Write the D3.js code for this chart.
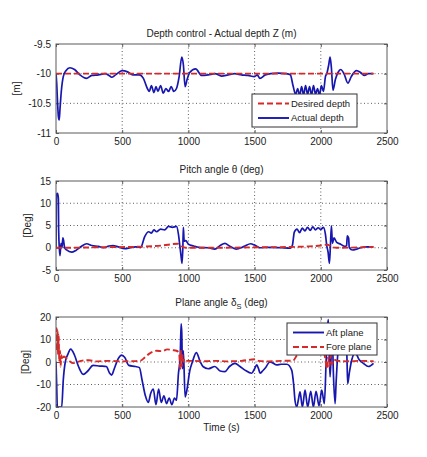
<!DOCTYPE html>
<html>
<head>
<meta charset="utf-8">
<script src="https://cdn.jsdelivr.net/npm/d3@7"></script>
<style>
body { margin: 0; background: #fff; }
svg { display: block; font-family: "Liberation Sans", Arial, sans-serif; }
.box { fill: none; stroke: #5a5a5a; stroke-width: 1; }
.grid line { stroke: #333; stroke-dasharray: 1,2.5; stroke-width: 0.8; }
.axis path { display: none; }
.axis line { stroke: #5a5a5a; }
.axis text { font-size: 10px; fill: #222; }
</style>
</head>
<body>
<svg id="chart" width="427" height="457"></svg>
<script>
// tick values
var xTicks = [0, 500, 1000, 1500, 2000, 2500];
var depthTicks = [-11, -10.5, -10, -9.5];
var pitchTicks = [-5, 0, 5, 10, 15];
var planeTicks = [-20, -10, 0, 10, 20];

// [time (s), value]
var depthDesired = [[0, -10], [2400, -10]];
var depthActual = [[0, -10], [5, -10.15], [12, -10.5], [18, -10.72], [24, -10.78], [30, -10.6], [40, -10.3], [55, -10.05],
	[75, -9.95], [105, -9.9], [140, -9.93], [180, -10.02], [230, -10.08], [270, -10.03], [320, -10.02], [370, -10.0],
	[400, -10.03], [420, -10.06], [450, -10.02], [500, -9.95], [540, -9.97], [580, -10.02], [630, -10.02], [660, -10.08],
	[690, -10.25], [705, -10.3], [720, -10.2], [740, -10.32], [755, -10.22], [770, -10.3], [790, -10.2], [810, -10.33],
	[830, -10.25], [850, -10.3], [870, -10.22], [890, -10.3], [910, -10.25], [930, -10.05], [950, -9.72], [962, -9.85],
	[975, -10.22], [990, -10.1], [1010, -9.98], [1055, -9.92], [1100, -10.03], [1150, -10.02], [1200, -10.0], [1250, -10.04],
	[1300, -10.02], [1350, -10.0], [1400, -10.02], [1450, -10.03], [1500, -10.05], [1520, -10.02], [1540, -10.08], [1580, -10.02],
	[1620, -10.0], [1680, -9.99], [1740, -10.0], [1770, -10.02], [1790, -10.2], [1810, -10.35], [1825, -10.25], [1840, -10.37],
	[1855, -10.22], [1870, -10.36], [1885, -10.2], [1900, -10.35], [1915, -10.22], [1930, -10.36], [1945, -10.2], [1960, -10.35],
	[1975, -10.25], [1990, -10.36], [2005, -10.2], [2020, -10.3], [2035, -10.05], [2045, -10.0], [2060, -9.85], [2070, -9.72],
	[2080, -9.9], [2092, -10.28], [2110, -10.1], [2130, -9.98], [2150, -9.93], [2175, -10.0], [2205, -10.16], [2230, -10.05],
	[2270, -9.95], [2300, -9.98], [2330, -10.03], [2360, -10.0], [2395, -10.0]];

var pitchDesired = [[0, 0], [100, 0], [300, 0.1], [600, 0.2], [800, 0.5], [920, 0.9], [950, 0.3], [980, 0], [1200, 0],
	[1500, 0.1], [1800, 0.2], [2000, 0.5], [2050, 0.7], [2080, 0.2], [2120, 0], [2400, 0.2]];
var pitchActual = [[0, 0], [3, 12], [12, 12.2], [18, 11], [20, 4], [25, 0], [30, -1.8], [38, 1], [45, 0], [52, 2.2], [58, 1.5],
	[65, 0], [80, -0.5], [118, -1], [150, -0.6], [190, 0.3], [232, 0.9], [270, 0.5], [320, 0.3], [360, 0], [400, 0.4], [430, 0.5],
	[470, 0.2], [520, -0.2], [560, 0], [600, 0.2], [640, 0.1], [670, 2.5], [700, 3.6], [720, 3.3], [740, 4], [760, 3.6], [790, 4.2],
	[820, 4.0], [850, 4.8], [880, 4.6], [910, 4.8], [925, 3], [935, 0.5], [945, -2], [952, -3.5], [958, 0], [962, 4.6], [968, 1.5],
	[980, 1.6], [1000, 0.8], [1040, 0.4], [1080, 0.1], [1150, 0], [1200, -0.3], [1240, 0.5], [1276, 1], [1310, 0.4], [1360, -0.3],
	[1420, 0.3], [1470, 0.9], [1500, 0.6], [1540, 0], [1600, 0.1], [1700, 0], [1770, -0.1], [1785, 0.5], [1800, 3.5], [1820, 4.2],
	[1840, 3.4], [1860, 4.4], [1880, 3.8], [1900, 4.6], [1920, 3.9], [1940, 4.7], [1960, 4.0], [1980, 4.5], [2000, 4.1], [2020, 4.6],
	[2035, 3], [2045, 0.5], [2055, -1], [2065, -3.5], [2072, 0], [2080, 4.9], [2088, 1], [2100, 2.2], [2120, 1.2], [2150, 0.8],
	[2180, 0.3], [2195, 0.5], [2200, 2.7], [2210, 2.2], [2215, 0], [2240, -0.5], [2270, -0.3], [2300, 0], [2350, 0.2], [2395, 0.2]];

var planeAft = [[0, 0], [5, -10], [10, -20], [43, -20], [55, -8], [70, 0], [90, 3.5], [111, 5.7], [140, 3], [170, -2], [206, -5.5],
	[240, -4], [280, -1.5], [330, -1.8], [380, -2], [405, -5], [420, -5.8], [440, -3], [470, 1.5], [496, 3.1], [520, 2], [550, -1.5],
	[600, -2], [630, -2.5], [650, -8], [675, -15], [697, -18], [715, -14], [735, -12], [755, -19], [775, -12], [795, -18], [815, -15],
	[835, -18.5], [855, -16], [875, -19], [895, -16], [910, -17], [925, -5], [938, 2], [945, 17], [950, 13], [955, -3], [962, 5],
	[975, -15.5], [990, -12], [1010, -4], [1030, 0], [1060, 4.2], [1090, 0], [1110, -2], [1150, -3], [1200, -2], [1240, -4],
	[1276, -4.3], [1310, -2], [1352, -0.6], [1390, -2], [1427, -3.6], [1478, -5], [1500, -3], [1516, -1.3], [1530, -3], [1541, -5],
	[1560, -4], [1579, -2.8], [1616, 0], [1640, -0.5], [1667, -1.3], [1700, -1], [1743, -1], [1780, -3.6], [1795, -10], [1805, -17],
	[1818, -20], [1830, -17], [1843, -13.3], [1861, -20], [1881, -12.5], [1901, -20], [1924, -13], [1944, -20], [1964, -13],
	[1987, -19.5], [2007, -12.5], [2027, -18.5], [2040, 0], [2050, 15], [2057, 18.8], [2063, 5], [2070, -6.6], [2080, 5], [2087, 11],
	[2095, -5], [2108, -18.5], [2115, -10], [2130, 5], [2146, 11], [2160, 13], [2171, 8], [2185, 6], [2196, 4], [2203, -9.6],
	[2215, -5], [2234, 1], [2260, 4], [2290, 1], [2322, -0.6], [2360, -2], [2398, -0.6]];
var planeFore = [[0, 14], [5, 15], [8, 5], [12, 14], [16, 3], [20, 12], [25, 0], [30, 5], [35, -2], [40, 3], [50, 1], [60, 2.5],
	[80, 1.5], [100, 0.5], [130, -0.5], [160, 0], [200, 0.6], [250, 0.8], [300, 0.3], [400, 0.5], [500, 0.3], [600, 0.4], [640, 0.6],
	[670, 2], [700, 3.5], [730, 4.5], [760, 5.0], [800, 4.8], [840, 5.6], [880, 5.3], [910, 5.0], [930, 4], [938, -3], [944, 5],
	[950, -2], [956, 3], [962, 0], [970, 1.5], [990, 0.5], [1050, 0.5], [1100, 0.3], [1200, 0.5], [1300, 0.3], [1400, 0.5],
	[1500, 1.2], [1530, 0.5], [1600, 0.3], [1700, 0.5], [1790, 0.6], [1820, 3], [1860, 5], [1950, 5.5], [2020, 5], [2035, 1],
	[2045, -3], [2055, 2], [2065, -2], [2075, 3], [2085, -1], [2100, 1], [2130, 0.5], [2200, 0.3], [2300, 0.5], [2400, 0.3]];

var RED = '#d62a2a';
var BLUE = '#1717b0';

var svg = d3.select('#chart');
svg.append('rect').attr('width', 427).attr('height', 457).attr('fill', '#fff');

var x = d3.scaleLinear().domain([0, 2500]).range([56, 387]);

var panels = [
	{ id: 'depth', top: 44, bottom: 133, domain: [-11, -9.5], ticks: depthTicks, ylabel: '[m]', ylx: 20, titleY: 37,
		title: ['Depth control - Actual depth Z (m)'],
		series: [{ data: depthActual, color: BLUE }, { data: depthDesired, color: RED, dash: '6,3' }],
		legend: { x: 252, y: 94, w: 105, h: 33, rows: [{ label: 'Desired depth', color: RED, dash: '6,3' }, { label: 'Actual depth', color: BLUE }] } },
	{ id: 'pitch', top: 181, bottom: 270, domain: [-5, 15], ticks: pitchTicks, ylabel: '[Deg]', ylx: 31, titleY: 173,
		title: ['Pitch angle \u03b8 (deg)'],
		series: [{ data: pitchActual, color: BLUE }, { data: pitchDesired, color: RED, dash: '6,3' }] },
	{ id: 'plane', top: 317, bottom: 407, domain: [-20, 20], ticks: planeTicks, ylabel: '[Deg]', ylx: 29, titleY: 306,
		title: ['Plane angle \u03b4', 'S', ' (deg)'],
		series: [{ data: planeAft, color: BLUE }, { data: planeFore, color: RED, dash: '6,3' }],
		legend: { x: 287, y: 323, w: 90, h: 32, rows: [{ label: 'Aft plane', color: BLUE }, { label: 'Fore plane', color: RED, dash: '6,3' }] } }
];

panels.forEach(function(p) {
	var y = d3.scaleLinear().domain(p.domain).range([p.bottom, p.top]);
	var g = svg.append('g');

	g.append('clipPath').attr('id', 'clip-' + p.id)
		.append('rect').attr('x', x(0)).attr('y', p.top).attr('width', x(2500) - x(0)).attr('height', p.bottom - p.top);

	// dotted grid
	var grid = g.append('g').attr('class', 'grid');
	grid.selectAll('.gx').data(xTicks.slice(1, -1)).join('line')
		.attr('x1', function(d) { return x(d); }).attr('x2', function(d) { return x(d); })
		.attr('y1', p.top).attr('y2', p.bottom);
	grid.selectAll('.gy').data(p.ticks.slice(1, -1)).join('line')
		.attr('class', 'gy')
		.attr('x1', x(0)).attr('x2', x(2500))
		.attr('y1', function(d) { return y(d); }).attr('y2', function(d) { return y(d); });

	// inward ticks on all four sides
	g.append('g').attr('class', 'axis').attr('transform', 'translate(0,' + p.bottom + ')')
		.call(d3.axisBottom(x).tickValues(xTicks).tickSize(-3).tickPadding(5).tickFormat(d3.format('d')));
	g.append('g').attr('class', 'axis').attr('transform', 'translate(0,' + p.top + ')')
		.call(d3.axisTop(x).tickValues(xTicks).tickSize(-3).tickFormat(''));
	g.append('g').attr('class', 'axis').attr('transform', 'translate(' + x(0) + ',0)')
		.call(d3.axisLeft(y).tickValues(p.ticks).tickSize(-3).tickPadding(5).tickFormat(function(d) { return String(d).replace('-', '-'); }));
	g.append('g').attr('class', 'axis').attr('transform', 'translate(' + x(2500) + ',0)')
		.call(d3.axisRight(y).tickValues(p.ticks).tickSize(-3).tickFormat(''));

	// series
	var line = d3.line().x(function(d) { return x(d[0]); }).y(function(d) { return y(d[1]); }).curve(d3.curveMonotoneX);
	var lines = g.append('g').attr('clip-path', 'url(#clip-' + p.id + ')');
	p.series.forEach(function(s) {
		lines.append('path').datum(s.data)
			.attr('d', line)
			.attr('fill', 'none')
			.attr('stroke', s.color)
			.attr('stroke-width', s.dash ? 1.9 : 1.7)
			.attr('stroke-dasharray', s.dash || null)
			.attr('stroke-linejoin', 'round');
	});

	g.append('rect').attr('class', 'box')
		.attr('x', x(0)).attr('y', p.top).attr('width', x(2500) - x(0)).attr('height', p.bottom - p.top);

	// title
	var t = g.append('text').attr('x', (x(0) + x(2500)) / 2).attr('y', p.titleY)
		.attr('text-anchor', 'middle').attr('font-size', 10).attr('fill', '#222');
	t.append('tspan').text(p.title[0]);
	if (p.title.length > 1) {
		t.append('tspan').attr('dy', 3).attr('font-size', 7.5).text(p.title[1]);
		t.append('tspan').attr('dy', -3).text(p.title[2]);
	}

	// y label
	g.append('text')
		.attr('transform', 'translate(' + p.ylx + ',' + ((p.top + p.bottom) / 2) + ') rotate(-90)')
		.attr('text-anchor', 'middle').attr('font-size', 10).attr('fill', '#222')
		.text(p.ylabel);

	// legend
	if (p.legend) {
		var L = p.legend;
		var lg = g.append('g').attr('transform', 'translate(' + L.x + ',' + L.y + ')');
		lg.append('rect').attr('width', L.w).attr('height', L.h).attr('fill', '#fff').attr('stroke', '#333').attr('stroke-width', 1);
		L.rows.forEach(function(r, i) {
			var cy = 9.5 + i * 14.5;
			lg.append('line').attr('x1', 6).attr('x2', 37).attr('y1', cy).attr('y2', cy)
				.attr('stroke', r.color).attr('stroke-width', 1.9).attr('stroke-dasharray', r.dash || null);
			lg.append('text').attr('x', 39).attr('y', cy).attr('dy', '0.35em')
				.attr('font-size', 9.5).attr('fill', '#222').text(r.label);
		});
	}
});

svg.append('text').attr('x', (x(0) + x(2500)) / 2).attr('y', 431)
	.attr('text-anchor', 'middle').attr('font-size', 10).attr('fill', '#222')
	.text('Time (s)');
</script>
</body>
</html>
